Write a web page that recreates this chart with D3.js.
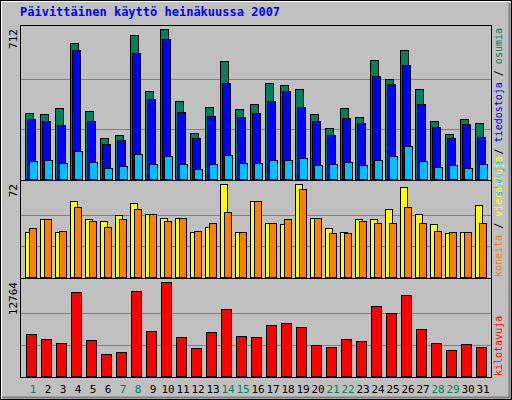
<!DOCTYPE html>
<html><head><meta charset="utf-8">
<script src="https://cdn.jsdelivr.net/npm/d3@7"></script>
<style>body{margin:0;background:#fff}</style>
</head><body><svg width="512" height="400"></svg>
<script>
var days = d3.range(1, 32),
	weekends = [1, 7, 8, 14, 15, 21, 22, 28, 29],
	hits = [315,310,335,645,325,194,209,684,417,712,369,218,340,558,330,354,456,446,427,310,243,335,296,567,475,611,427,276,213,286,267],
	files = [286,276,257,611,276,165,184,597,378,664,320,194,301,456,296,315,369,417,344,276,209,291,267,490,451,543,354,247,194,262,199],
	pages = [87,92,78,131,82,53,63,121,73,107,73,49,73,116,78,78,92,92,102,68,73,82,68,92,107,155,87,58,68,53,73],
	visits = [35,45,35,59,45,43,48,57,49,46,46,35,39,72,35,59,42,41,72,46,38,35,45,45,53,70,49,41,34,35,56],
	sites = [38,45,36,54,43,39,45,53,49,43,46,36,42,50,35,59,42,45,68,46,34,34,43,42,42,54,42,36,35,35,42],
	kbytes = [5636,5077,4518,11366,4937,2981,3261,11505,6055,12764,5357,3820,5916,9130,5496,5357,6894,7173,6614,4239,3959,5077,4798,9549,8571,10946,6335,4518,3540,4379,3959],
	svg = d3.select('svg'),
	font = 'DejaVu Sans Mono, monospace';

svg.append('rect').attr('x', 0.5).attr('y', 0.5).attr('width', 511).attr('height', 399).attr('fill', '#c0c0c0').attr('stroke', '#000');
svg.append('path').attr('d', 'M1.5,398.5V1.5H510.5').attr('fill', 'none').attr('stroke', '#fff');
svg.append('path').attr('d', 'M2,397.5H509.5V3').attr('fill', 'none').attr('stroke', '#808080').attr('stroke-width', 2);

svg.append('text').attr('x', 20).attr('y', 16).attr('font-family', font).attr('font-weight', 'bold')
	.attr('font-size', 12).attr('fill', '#0000ff').text('Päivittäinen käyttö heinäkuussa 2007');

var x = d3.scaleLinear().domain([1, 31]).range([25, 475]);

function panel(top, bottom, max, label) {
	svg.append('rect').attr('x', 20.5).attr('y', top + 0.5).attr('width', 471).attr('height', bottom - top)
		.attr('fill', '#c0c0c0').attr('stroke', '#000');
	var y = d3.scaleLinear().domain([0, max]).range([bottom - 1, top + 4]);
	[1 / 3, 2 / 3].forEach(function (f) {
		svg.append('line').attr('x1', 21).attr('x2', 491).attr('y1', Math.round(y(max * f)) + 0.5)
			.attr('y2', Math.round(y(max * f)) + 0.5).attr('stroke', '#808080');
	});
	svg.append('text').attr('transform', 'translate(17,' + (top + 4) + ') rotate(-90)')
		.attr('text-anchor', 'end').attr('font-family', font).attr('font-size', 11).text(label);
	return y;
}

function bars(vals, y, dx, w, color) {
	svg.append('g').selectAll('rect').data(vals).enter().append('rect')
		.attr('x', function (d, i) { return x(days[i]) + dx + 0.5; })
		.attr('y', function (d) { return Math.round(y(d)) + 0.5; })
		.attr('width', w)
		.attr('height', function (d) { return y(0) - Math.round(y(d)); })
		.attr('fill', color).attr('stroke', '#000');
}

var y1 = panel(25, 180, 712, '712');
bars(hits, y1, 0, 8, '#00805c');
bars(files, y1, 2, 8, '#0000ff');
bars(pages, y1, 4, 8, '#00c0ff');

var y2 = panel(180, 278, 72, '72');
bars(visits, y2, 0, 7, '#ffff00');
bars(sites, y2, 4, 7, '#ff8000');

var y3 = panel(278, 377, 12764, '12764');
bars(kbytes, y3, 1, 10, '#ff0000');

function sideLabel(yy, anchor, parts) {
	var t = svg.append('text').attr('transform', 'translate(502,' + yy + ') rotate(-90)')
		.attr('text-anchor', anchor).attr('font-family', font).attr('font-size', 10);
	parts.forEach(function (p) { t.append('tspan').attr('fill', p[1]).text(p[0]); });
}
sideLabel(28, 'end', [['sivuja', '#00c0ff'], [' / ', '#000'], ['tiedostoja', '#0000ff'], [' / ', '#000'], ['osumia', '#00805c']]);
sideLabel(277, 'start', [['koneita', '#ff8000'], [' / ', '#000'], ['vierailuja', '#ffff00']]);
sideLabel(376, 'start', [['kilotavuja', '#ff0000']]);

svg.append('g').selectAll('text').data(days).enter().append('text')
	.attr('x', function (d) { return x(d) + 8; })
	.attr('y', 393).attr('text-anchor', 'middle').attr('font-family', font).attr('font-size', 11)
	.attr('fill', function (d) { return weekends.indexOf(d) >= 0 ? '#00805c' : '#000'; })
	.text(function (d) { return d; });
</script></body></html>
